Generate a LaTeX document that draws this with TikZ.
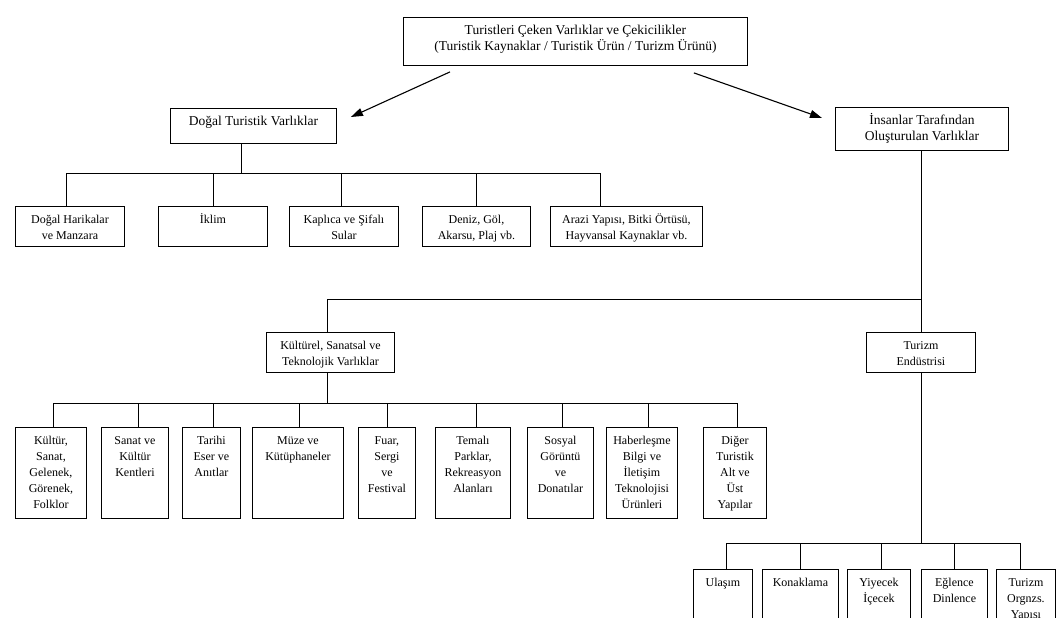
\documentclass[tikz,border=0pt]{standalone}
\usepackage{fontspec}
\setmainfont{Liberation Serif}
\usetikzlibrary{arrows.meta}

% box text: width, height, lines
\newcommand{\kutuyazi}[3]{\parbox[t][#2pt][t]{#1pt}{\centering\vspace{6pt}\strut #3}}

\begin{document}
\begin{tikzpicture}[x=1pt,y=-1pt,
    kutu/.style={draw, line width=0.9pt, inner sep=0pt, anchor=north west, font=\fontsize{12}{16}\selectfont},
    buyuk/.style={kutu, font=\fontsize{13.5}{16}\selectfont},
    hat/.style={line width=0.9pt},
    ok/.style={line width=1.1pt, -{Triangle[length=12pt,width=8pt]}}]

    \useasboundingbox (0,0) rectangle (1057,618);
    \clip (0,0) rectangle (1057,618);

    % top level
    \node[buyuk] (ust) at (403,17) {\kutuyazi{344}{48}{Turistleri Çeken Varlıklar ve Çekicilikler\\(Turistik Kaynaklar / Turistik Ürün / Turizm Ürünü)}};
    \node[buyuk] (dogal) at (170,108) {\kutuyazi{166}{35}{Doğal Turistik Varlıklar}};
    \node[buyuk] (insan) at (835,107) {\kutuyazi{173}{43}{İnsanlar Tarafından\\Oluşturulan Varlıklar}};

    \draw[ok] ([shift={(47,6)}]ust.south west) -- ([shift={(14,9)}]dogal.north east);
    \draw[ok] ([shift={(-54,7)}]ust.south east) -- ([shift={(-13,11)}]insan.north west);

    % natural assets
    \node[kutu] (harika) at (15,206) {\kutuyazi{109}{40}{Doğal Harikalar\\ve Manzara}};
    \node[kutu] (iklim) at (158,206) {\kutuyazi{109}{40}{İklim}};
    \node[kutu] (kaplica) at (289,206) {\kutuyazi{109}{40}{Kaplıca ve Şifalı\\Sular}};
    \node[kutu] (deniz) at (422,206) {\kutuyazi{108}{40}{Deniz, Göl,\\Akarsu, Plaj vb.}};
    \node[kutu] (arazi) at (550,206) {\kutuyazi{152}{40}{Arazi Yapısı, Bitki Örtüsü,\\Hayvansal Kaynaklar vb.}};

    \draw[hat] ([xshift=-12pt]dogal.south) -- ++(0,30) coordinate (b1);
    \draw[hat] ([xshift=-4pt]harika.north) |- (b1) -| ([xshift=-26pt]arazi.north);
    \draw[hat] (iklim.north) -- (iklim.north |- b1);
    \draw[hat] ([xshift=-3pt]kaplica.north) -- ([xshift=-3pt]kaplica.north |- b1);
    \draw[hat] (deniz.north) -- (deniz.north |- b1);

    % man-made assets
    \node[kutu] (kulturel) at (266,332) {\kutuyazi{128}{40}{Kültürel, Sanatsal ve\\Teknolojik Varlıklar}};
    \node[kutu] (endustri) at (866,332) {\kutuyazi{109}{40}{Turizm\\Endüstrisi}};

    \path (endustri.north) ++(0,-33) coordinate (b2);
    \draw[hat] (endustri.north) -- (endustri.north |- insan.south);
    \draw[hat] ([xshift=-3pt]kulturel.north) |- (b2);

    % cultural assets
    \node[kutu] (kultur) at (15,427) {\kutuyazi{71}{91}{Kültür,\\Sanat,\\Gelenek,\\Görenek,\\Folklor}};
    \node[kutu] (sanat) at (101,427) {\kutuyazi{67}{91}{Sanat ve\\Kültür\\Kentleri}};
    \node[kutu] (tarihi) at (182,427) {\kutuyazi{58}{91}{Tarihi\\Eser ve\\Anıtlar}};
    \node[kutu] (muze) at (252,427) {\kutuyazi{91}{91}{Müze ve\\Kütüphaneler}};
    \node[kutu] (fuar) at (358,427) {\kutuyazi{57}{91}{Fuar,\\Sergi\\ve\\Festival}};
    \node[kutu] (temali) at (435,427) {\kutuyazi{75}{91}{Temalı\\Parklar,\\Rekreasyon\\Alanları}};
    \node[kutu] (sosyal) at (527,427) {\kutuyazi{66}{91}{Sosyal\\Görüntü\\ve\\Donatılar}};
    \node[kutu] (haber) at (606,427) {\kutuyazi{71}{91}{Haberleşme\\Bilgi ve\\İletişim\\Teknolojisi\\Ürünleri}};
    \node[kutu] (diger) at (703,427) {\kutuyazi{63}{91}{Diğer\\Turistik\\Alt ve\\Üst\\Yapılar}};

    \draw[hat] ([xshift=-3pt]kulturel.south) -- ++(0,31) coordinate (b3);
    \draw[hat] ([xshift=2pt]kultur.north) |- (b3) -| ([xshift=2pt]diger.north);
    \draw[hat] ([xshift=3pt]sanat.north) -- ([xshift=3pt]sanat.north |- b3);
    \draw[hat] ([xshift=2pt]tarihi.north) -- ([xshift=2pt]tarihi.north |- b3);
    \draw[hat] ([xshift=1pt]muze.north) -- ([xshift=1pt]muze.north |- b3);
    \draw[hat] (fuar.north) -- (fuar.north |- b3);
    \draw[hat] ([xshift=3pt]temali.north) -- ([xshift=3pt]temali.north |- b3);
    \draw[hat] ([xshift=2pt]sosyal.north) -- ([xshift=2pt]sosyal.north |- b3);
    \draw[hat] ([xshift=6pt]haber.north) -- ([xshift=6pt]haber.north |- b3);

    % tourism industry
    \node[kutu] (ulasim) at (693,569) {\kutuyazi{59}{70}{Ulaşım}};
    \node[kutu] (konak) at (762,569) {\kutuyazi{76}{70}{Konaklama}};
    \node[kutu] (yiyecek) at (847,569) {\kutuyazi{63}{70}{Yiyecek\\İçecek}};
    \node[kutu] (eglence) at (921,569) {\kutuyazi{66}{70}{Eğlence\\Dinlence}};
    \node[kutu] (orgnzs) at (996,569) {\kutuyazi{59}{70}{Turizm\\Orgnzs.\\Yapısı}};

    \draw[hat] (endustri.south) -- ++(0,171) coordinate (b4);
    \draw[hat] ([xshift=3pt]ulasim.north) |- (b4) -| ([xshift=-6pt]orgnzs.north);
    \draw[hat] (konak.north) -- (konak.north |- b4);
    \draw[hat] ([xshift=2pt]yiyecek.north) -- ([xshift=2pt]yiyecek.north |- b4);
    \draw[hat] (eglence.north) -- (eglence.north |- b4);

\end{tikzpicture}
\end{document}
